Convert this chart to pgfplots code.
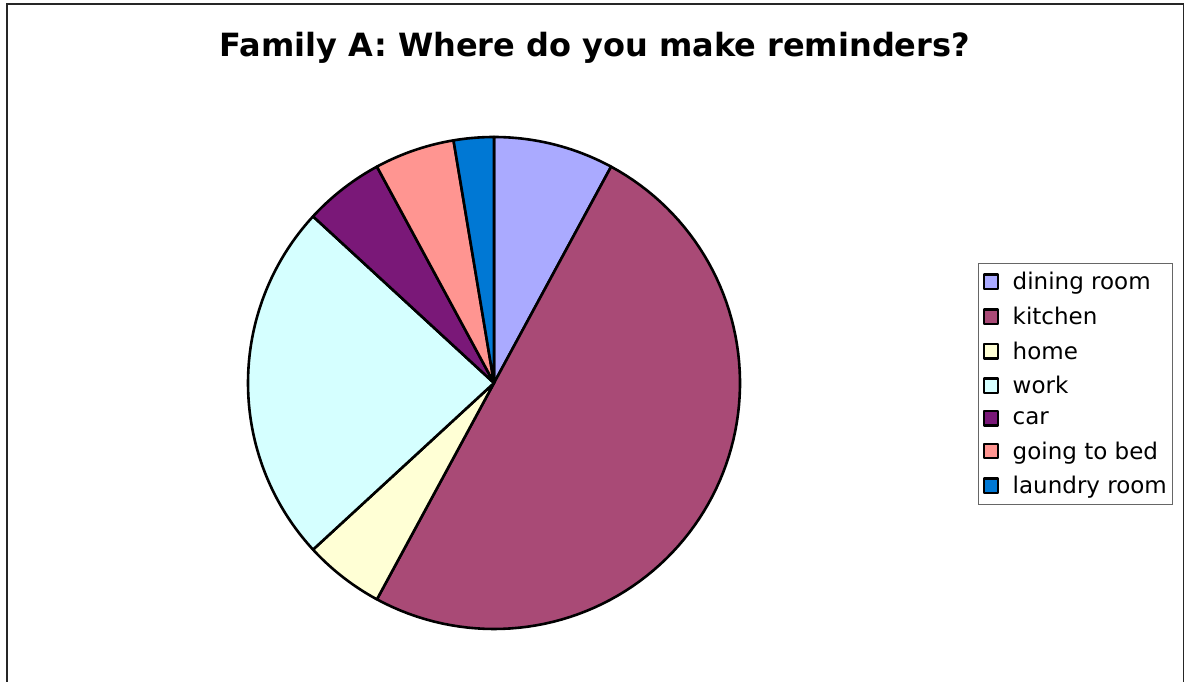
\documentclass[border=0pt]{standalone}
\usepackage{pgfplots}
\usepackage{pgfplotstable}
\pgfplotsset{compat=1.18}
\usepackage{fontspec}
\setmainfont{DejaVu Sans}

\definecolor{col0}{RGB}{170,170,255}
\definecolor{col1}{RGB}{169,74,118}
\definecolor{col2}{RGB}{255,255,213}
\definecolor{col3}{RGB}{213,255,255}
\definecolor{col4}{RGB}{122,24,120}
\definecolor{col5}{RGB}{255,149,145}
\definecolor{col6}{RGB}{0,120,212}

\pgfplotstableread{
label count
{dining room} 3
kitchen 19
home 2
work 9
car 2
{going to bed} 2
{laundry room} 1
}\piedata

\begin{document}
\begin{tikzpicture}[x=1pt,y=1pt]
\useasboundingbox (0,0) rectangle (1185,681);
\draw[line width=1.8pt, draw=black!85] (7,-5) -- (7,677) -- (1183.5,677) -- (1183.5,-5);
\node[font=\fontsize{32}{36}\selectfont\bfseries] at (595,633) {Family A: Where do you make reminders?};
\begin{axis}[
  at={(494pt,298pt)}, anchor=center,
  width=492pt, height=492pt, scale only axis,
  xmin=-1, xmax=1, ymin=-1, ymax=1,
  hide axis, clip=false,
  legend cell align=left,
  legend style={at={(1.484,0.744)}, anchor=north west,
    draw=black!60, line width=0.8pt,
    font=\fontsize{23}{27}\selectfont,
    inner xsep=4pt, inner ysep=8pt, row sep=13.7pt,
    nodes={inner xsep=2pt, inner ysep=1pt}},
  legend image code/.code={\path[draw=none, fill=none] (0pt,0pt) -- (27pt,0pt); \draw[#1, draw=black, line width=2.4pt] (0pt,-7.2pt) rectangle (14.4pt,7.2pt);},
]
\pgfmathsetmacro{\total}{0}
\pgfplotstablegetrowsof{\piedata}
\pgfmathtruncatemacro{\nrows}{\pgfplotsretval-1}
\pgfplotsforeachungrouped \i in {0,...,\nrows}{%
  \pgfplotstablegetelem{\i}{count}\of\piedata
  \pgfmathsetmacro{\total}{\total+\pgfplotsretval}%
}
\pgfmathsetmacro{\cum}{0}
\pgfplotsforeachungrouped \i in {0,...,\nrows}{%
  \pgfplotstablegetelem{\i}{count}\of\piedata
  \pgfmathsetmacro{\cnt}{\pgfplotsretval}%
  \pgfplotstablegetelem{\i}{label}\of\piedata
  \let\lab\pgfplotsretval
  \pgfmathsetmacro{\astart}{90-360*\cum/\total}%
  \pgfmathsetmacro{\aend}{90-360*(\cum+\cnt)/\total}%
  \pgfmathsetmacro{\cum}{\cum+\cnt}%
  \edef\cmd{\noexpand\addplot[fill=col\i, draw=black, line width=2.6pt, line join=round, domain=\aend:\astart, samples=90] ({cos(x)},{sin(x)}) -- (axis cs:0,0) -- cycle;
  \noexpand\addlegendentry{\lab}}%
  \cmd
}
\end{axis}
\end{tikzpicture}
\end{document}
